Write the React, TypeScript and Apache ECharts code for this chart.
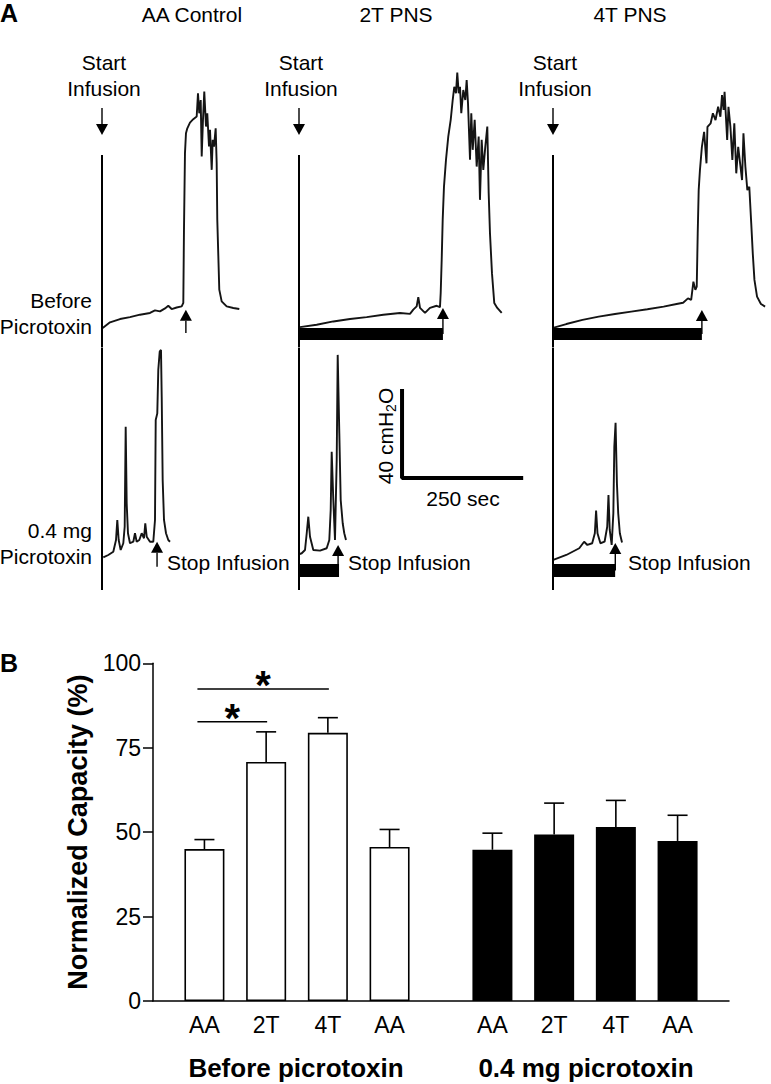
import React, { useEffect, useRef } from 'react';
import * as echarts from 'echarts';

const FONT = '"Liberation Sans", Arial, Helvetica, sans-serif';

// ---------- Panel A: cystometrogram traces, [time (s), pressure (cmH2O)] ----------
const panelTitles = ['AA Control', '2T PNS', '4T PNS'];

const aaBefore = [[1.5,0.8],[16.8,3.4],[37.8,4.9],[58.7,5.8],[79.7,6.9],[100.7,7.7],[111.2,8.9],[121.7,8.4],[132.2,9.8],[139.1,11.0],[146.2,9.5],[156.7,10.2],[167.2,10.7],[170.6,12.3],[172.0,45.9],[174.1,81.2],[176.2,90.3],[179.0,92.6],[184.6,95.2],[191.5,96.8],[198.7,98.0],[201.4,108.7],[204.1,99.5],[207.1,105.6],[209.2,79.6],[211.9,96.5],[214.6,109.5],[218.2,93.4],[220.9,99.5],[224.5,84.2],[226.6,91.9],[230.2,73.5],[232.3,87.3],[235.0,84.2],[238.5,92.6],[240.6,76.6],[241.9,50.5],[246.1,18.4],[251.1,13.0],[261.6,10.7],[275.5,10.0],[288.1,9.5]];

const t2Before = [[2.1,1.2],[37.1,2.3],[72.0,3.8],[107.0,4.9],[142.0,5.8],[176.9,6.9],[211.9,7.7],[232.9,7.3],[239.8,9.2],[246.9,10.7],[250.3,15.0],[253.9,10.0],[264.4,7.7],[274.8,10.0],[288.9,11.0],[295.8,10.4],[297.3,16.9],[299.4,32.2],[301.5,50.5],[304.2,65.8],[308.4,78.1],[313.2,88.8],[318.3,96.5],[322.5,105.6],[325.8,111.7],[329.4,108.7],[332.1,118.2],[335.1,108.7],[337.8,111.7],[340.5,99.5],[344.7,110.2],[348.9,105.6],[351.8,114.8],[354.6,104.1],[358.8,78.1],[361.5,99.5],[364.5,82.7],[368.6,96.5],[372.8,75.0],[377.0,88.8],[379.7,59.7],[383.3,87.3],[386.7,73.5],[390.9,84.2],[395.1,93.4],[398.0,62.8],[400.7,44.4],[404.9,26.0],[409.7,12.3],[416.0,10.0],[425.3,7.7]];

const t4Before = [[0,0.8],[28.7,2.6],[63.6,4.5],[98.6,6.0],[133.6,7.2],[168.5,8.3],[203.5,9.4],[238.5,10.6],[266.4,11.8],[280.5,12.4],[291.0,14.4],[297.9,13.7],[302.7,22.1],[306.9,18.3],[309.9,19.8],[312.0,44.3],[314.1,64.2],[316.8,73.4],[321.0,84.1],[325.8,91.0],[330.9,76.5],[333.0,93.3],[339.9,94.9],[344.7,99.5],[350.4,96.4],[356.0,102.5],[360.9,97.9],[364.4,107.9],[367.8,101.0],[369.9,109.4],[372.8,97.9],[375.5,87.2],[378.3,102.5],[382.5,93.3],[386.7,78.0],[390.9,94.9],[395.1,71.9],[399.3,84.1],[403.4,76.5],[407.6,68.8],[410.6,90.3],[414.8,74.9],[419.0,64.2],[423.2,65.7],[427.4,48.9],[430.7,35.1],[434.3,22.9],[439.9,15.2],[448.3,11.8],[457.3,10.6]];

const aaAfter = [[2.7,3.5],[13.2,4.6],[23.7,6.1],[29.4,11.5],[32.1,20.7],[35.0,11.5],[39.2,6.9],[44.7,10.0],[47.6,17.6],[49.7,63.6],[51.8,28.4],[54.5,14.6],[58.7,10.0],[65.7,10.7],[69.2,14.6],[72.8,10.7],[78.3,11.5],[83.3,14.6],[88.1,12.3],[90.8,19.2],[93.8,13.0],[100.7,10.7],[107.6,10.7],[111.2,20.7],[112.7,66.7],[116.0,69.7],[118.1,89.7],[121.1,98.1],[123.8,98.9],[125.3,77.4],[127.3,39.1],[130.1,20.7],[134.3,14.6],[139.1,11.5],[142.7,10.7]];

const t2After = [[1.0,5.0],[5.7,5.4],[12.6,6.9],[16.2,14.6],[19.5,22.2],[23.1,13.0],[30.0,6.9],[44.1,6.6],[58.1,7.7],[63.6,11.5],[66.5,25.3],[68.6,52.1],[72.0,29.9],[75.5,11.5],[79.1,48.3],[81.2,96.6],[84.6,60.6],[87.5,29.9],[91.7,19.2],[95.0,14.6],[98.6,11.5]];

const t4After = [[0.6,2.3],[28.7,4.6],[56.6,7.7],[67.1,10.7],[74.1,9.2],[84.5,10.0],[90.2,14.6],[92.9,25.0],[95.9,14.6],[102.2,10.0],[111.2,10.7],[116.9,17.6],[119.6,32.2],[122.3,16.1],[126.5,9.2],[130.1,23.8],[132.2,54.4],[134.9,65.4],[137.8,37.6],[140.6,23.8],[144.1,14.6],[148.8,10.3]];

const beforeTraces = [aaBefore, t2Before, t4Before];
const afterTraces = [aaAfter, t2After, t4After];

// infusion durations (s) shown as black bars (null = none drawn)
const infusionBefore = [null, 302, 321];
const infusionAfter = [null, 84, 134];

// arrows: [time (s), from (cmH2O), to (cmH2O)]
const startArrow = [0, 101.9, 89.5];
const stopArrowsBefore = [[176, -1.5, 9.2], [302, -2, 10.0], [321, -2, 9.1]];
const stopArrowsAfter = [[115.5, -0.8, 10.7], [82, -2.5, 9.2], [134.3, -2.5, 10.1]];

// scale bar: 40 cmH2O by 250 sec
const scaleBar = [[216.2, 80], [216.2, 40], [466.2, 40]];

// ---------- Panel B: normalized capacity ----------
const groupLabels = ['AA', '2T', '4T', 'AA'];
const beforeMeans = [45.0, 70.8, 79.4, 45.6];
const beforeSem = [2.8, 8.9, 4.5, 5.2];
const afterMeans = [44.8, 49.3, 51.5, 47.4];
const afterSem = [4.9, 9.3, 7.9, 7.6];
const yTicks = [0, 25, 50, 75, 100];
// significance brackets: [from group, to group, y (%)]
const sigBrackets = [[0, 2, 92.4], [0, 1, 82.7]];

// slot layout of the category axis
const SLOTS = 28;
const beforeSlots = [2, 5, 8, 11];
const afterSlots = [16, 19, 22, 25];

export default function App() {
  const ref = useRef<HTMLDivElement>(null);

  useEffect(() => {
    const chart = echarts.init(ref.current!, null, { renderer: 'svg' });

    const panelLeft = [102, 299, 553];
    const UP_TOP = 60, UP_H = 287.1, LO_TOP = 347.5, LO_H = 242.5, TR_W = 224;

    const grids: any[] = [];
    const xAxes: any[] = [];
    const yAxes: any[] = [];
    panelLeft.forEach((l, i) => {
      grids.push({ left: l, top: UP_TOP, width: TR_W, height: UP_H });
      xAxes.push({ type: 'value', gridIndex: i, min: 0, max: 470, show: false });
      yAxes.push({ type: 'value', gridIndex: i, min: -8, max: 124, show: false });
    });
    panelLeft.forEach((l, i) => {
      grids.push({ left: l, top: LO_TOP, width: TR_W, height: LO_H });
      xAxes.push({ type: 'value', gridIndex: 3 + i, min: 0, max: 470, show: false });
      yAxes.push({ type: 'value', gridIndex: 3 + i, min: -11.5, max: 100, show: false });
    });

    const slotLabels: string[] = new Array(SLOTS).fill('');
    beforeSlots.forEach((s, i) => (slotLabels[s] = groupLabels[i]));
    afterSlots.forEach((s, i) => (slotLabels[s] = groupLabels[i]));

    const tickFont = { color: '#000', fontSize: 23, fontFamily: FONT };

    grids.push({ left: 153, top: 663.3, width: 576, height: 337.7 });
    xAxes.push({
      type: 'category', gridIndex: 6,
      data: slotLabels.map((_, i) => 's' + i),
      axisLine: { lineStyle: { color: '#000', width: 1.5 } },
      axisTick: { length: 10, alignWithLabel: true, interval: (i: number) => slotLabels[i] !== '', lineStyle: { color: '#000', width: 1.5 } },
      axisLabel: { interval: 0, margin: 12, ...tickFont, formatter: (_v: string, i: number) => slotLabels[i] },
    });
    yAxes.push({
      type: 'value', gridIndex: 6, min: 0, max: 100, interval: 25,
      name: 'Normalized Capacity (%)', nameLocation: 'middle', nameRotate: 90, nameGap: 58,
      nameTextStyle: { fontSize: 27, fontWeight: 'bold', color: '#000', fontFamily: FONT },
      axisLine: { show: true, lineStyle: { color: '#000', width: 1.5 } },
      axisTick: { show: true, length: 10, lineStyle: { color: '#000', width: 1.5 } },
      axisLabel: { margin: 12, ...tickFont, formatter: (v: number) => (yTicks.includes(v) ? String(v) : '') },
      splitLine: { show: false },
    });

    const series: any[] = [];
    const traceStyle = { color: '#141414', width: 1.9 };
    const lineS = (gi: number, data: any[], style: any, extra: any = {}) => ({
      type: 'line', xAxisIndex: gi, yAxisIndex: gi, data, showSymbol: false, symbol: 'none',
      lineStyle: style, silent: true, clip: false, ...extra,
    });

    const arrowRender = (params: any, api: any) => {
      const a = api.coord([api.value(0), api.value(1)]);
      const b = api.coord([api.value(0), api.value(2)]);
      const dir = b[1] < a[1] ? -1 : 1;
      const hh = 11, hw = 6;
      return {
        type: 'group',
        children: [
          { type: 'line', shape: { x1: a[0], y1: a[1], x2: b[0], y2: b[1] - dir * hh }, style: { stroke: '#000', lineWidth: 1.4 } },
          { type: 'polygon', shape: { points: [[b[0], b[1]], [b[0] - hw, b[1] - dir * hh], [b[0] + hw, b[1] - dir * hh]] }, style: { fill: '#000' } },
        ],
      };
    };

    for (let p = 0; p < 3; p++) {
      const up = p, lo = 3 + p;
      series.push(lineS(up, beforeTraces[p], traceStyle));
      series.push(lineS(lo, afterTraces[p], traceStyle));
      // panel axis line
      series.push(lineS(up, [[0, 80.3], [0, -8]], { color: '#000', width: 2 }));
      series.push(lineS(lo, [[0, 100], [0, -11.5]], { color: '#000', width: 2 }));
      if (infusionBefore[p] != null) series.push(lineS(up, [[0, -2], [infusionBefore[p], -2]], { color: '#000', width: 12, cap: 'butt' }));
      if (infusionAfter[p] != null) series.push(lineS(lo, [[0, -2.5], [infusionAfter[p], -2.5]], { color: '#000', width: 13, cap: 'butt' }));
      series.push({ type: 'custom', xAxisIndex: up, yAxisIndex: up, data: [startArrow, stopArrowsBefore[p]], renderItem: arrowRender, silent: true });
      series.push({ type: 'custom', xAxisIndex: lo, yAxisIndex: lo, data: [stopArrowsAfter[p]], renderItem: arrowRender, silent: true });
    }
    series.push(lineS(4, scaleBar, { color: '#000', width: 4, cap: 'square' }));

    // Panel B bars
    const beforeData = new Array(SLOTS).fill(null);
    beforeSlots.forEach((s, i) => (beforeData[s] = beforeMeans[i]));
    const afterData = new Array(SLOTS).fill(null);
    afterSlots.forEach((s, i) => (afterData[s] = afterMeans[i]));

    series.push({
      type: 'bar', name: 'Before picrotoxin', xAxisIndex: 6, yAxisIndex: 6, data: beforeData, barWidth: 40, barGap: '-100%',
      itemStyle: { color: '#fff', borderColor: '#000', borderWidth: 1.6 }, silent: true,
    });
    series.push({
      type: 'bar', name: '0.4 mg picrotoxin', xAxisIndex: 6, yAxisIndex: 6, data: afterData, barWidth: 40, barGap: '-100%',
      itemStyle: { color: '#000', borderColor: '#000', borderWidth: 1.6 }, silent: true,
    });

    const errData = [
      ...beforeSlots.map((s, i) => [s, beforeMeans[i], beforeMeans[i] + beforeSem[i]]),
      ...afterSlots.map((s, i) => [s, afterMeans[i], afterMeans[i] + afterSem[i]]),
    ];
    series.push({
      type: 'custom', xAxisIndex: 6, yAxisIndex: 6, data: errData, silent: true, z: 5,
      renderItem: (params: any, api: any) => {
        const a = api.coord([api.value(0), api.value(1)]);
        const b = api.coord([api.value(0), api.value(2)]);
        return {
          type: 'group',
          children: [
            { type: 'line', shape: { x1: a[0], y1: a[1], x2: b[0], y2: b[1] }, style: { stroke: '#000', lineWidth: 1.6 } },
            { type: 'line', shape: { x1: b[0] - 10, y1: b[1], x2: b[0] + 10, y2: b[1] }, style: { stroke: '#000', lineWidth: 1.6 } },
          ],
        };
      },
    });

    const sigData = sigBrackets.map(([f, t, y]) => [beforeSlots[f], beforeSlots[t], y]);
    series.push({
      type: 'custom', xAxisIndex: 6, yAxisIndex: 6, data: sigData, silent: true, z: 5,
      renderItem: (params: any, api: any) => {
        const a = api.coord([api.value(0), api.value(2)]);
        const b = api.coord([api.value(1), api.value(2)]);
        const x1 = a[0] - 7, x2 = b[0] + 1;
        return {
          type: 'group',
          children: [
            { type: 'line', shape: { x1, y1: a[1], x2, y2: a[1] }, style: { stroke: '#000', lineWidth: 1.6 } },
            { type: 'text', x: (x1 + x2) / 2, y: a[1] - 4, style: { text: '*', fontSize: 40, fontWeight: 'bold', fontFamily: FONT, fill: '#000', align: 'center', verticalAlign: 'middle' } },
          ],
        };
      },
    });

    const txt = (text: string, x: number, y: number, o: any = {}) => ({
      type: 'text', x, y, silent: true, rotation: o.rotation || 0,
      style: {
        text, fill: '#000', fontSize: o.fontSize || 21, fontWeight: o.bold ? 'bold' : 'normal', fontFamily: FONT,
        align: o.align || 'center', verticalAlign: 'middle', textAlign: o.align || 'center', textVerticalAlign: 'middle',
        lineHeight: o.lineHeight || 26, rich: o.rich,
      },
    });

    const graphic: any[] = [
      txt('A', 0, 13, { bold: true, fontSize: 25, align: 'left' }),
      txt('B', 0, 663, { bold: true, fontSize: 25, align: 'left' }),
      txt(panelTitles[0], 192, 14),
      txt(panelTitles[1], 396, 14),
      txt(panelTitles[2], 630, 14),
      txt('Start\nInfusion', 104, 75),
      txt('Start\nInfusion', 301, 75),
      txt('Start\nInfusion', 555, 75),
      txt('Before\nPicrotoxin', 92, 313, { align: 'right' }),
      txt('0.4 mg\nPicrotoxin', 92, 543, { align: 'right' }),
      txt('Stop Infusion', 167, 562, { align: 'left' }),
      txt('Stop Infusion', 348, 562, { align: 'left' }),
      txt('Stop Infusion', 628, 562, { align: 'left' }),
      txt('{n|40 cmH}{s|2}{n|O}', 385, 436, { rotation: Math.PI / 2, rich: { n: { fontSize: 21, fontFamily: FONT, fill: '#000', lineHeight: 26 }, s: { fontSize: 14, fontFamily: FONT, fill: '#000', lineHeight: 26, verticalAlign: 'bottom', padding: [10, 0, 0, 0] } } }),
      txt('250 sec', 463, 498),
      txt('Before picrotoxin', 296, 1068, { bold: true, fontSize: 26 }),
      txt('0.4 mg picrotoxin', 586, 1068, { bold: true, fontSize: 26 }),
    ];

    chart.setOption({
      animation: false,
      backgroundColor: '#fff',
      textStyle: { fontFamily: FONT },
      grid: grids,
      xAxis: xAxes,
      yAxis: yAxes,
      series,
      graphic,
    });

    return () => chart.dispose();
  }, []);

  return <div ref={ref} style={{ position: 'absolute', left: 0, top: 0, width: 771, height: 1084, background: '#fff' }} />;
}
